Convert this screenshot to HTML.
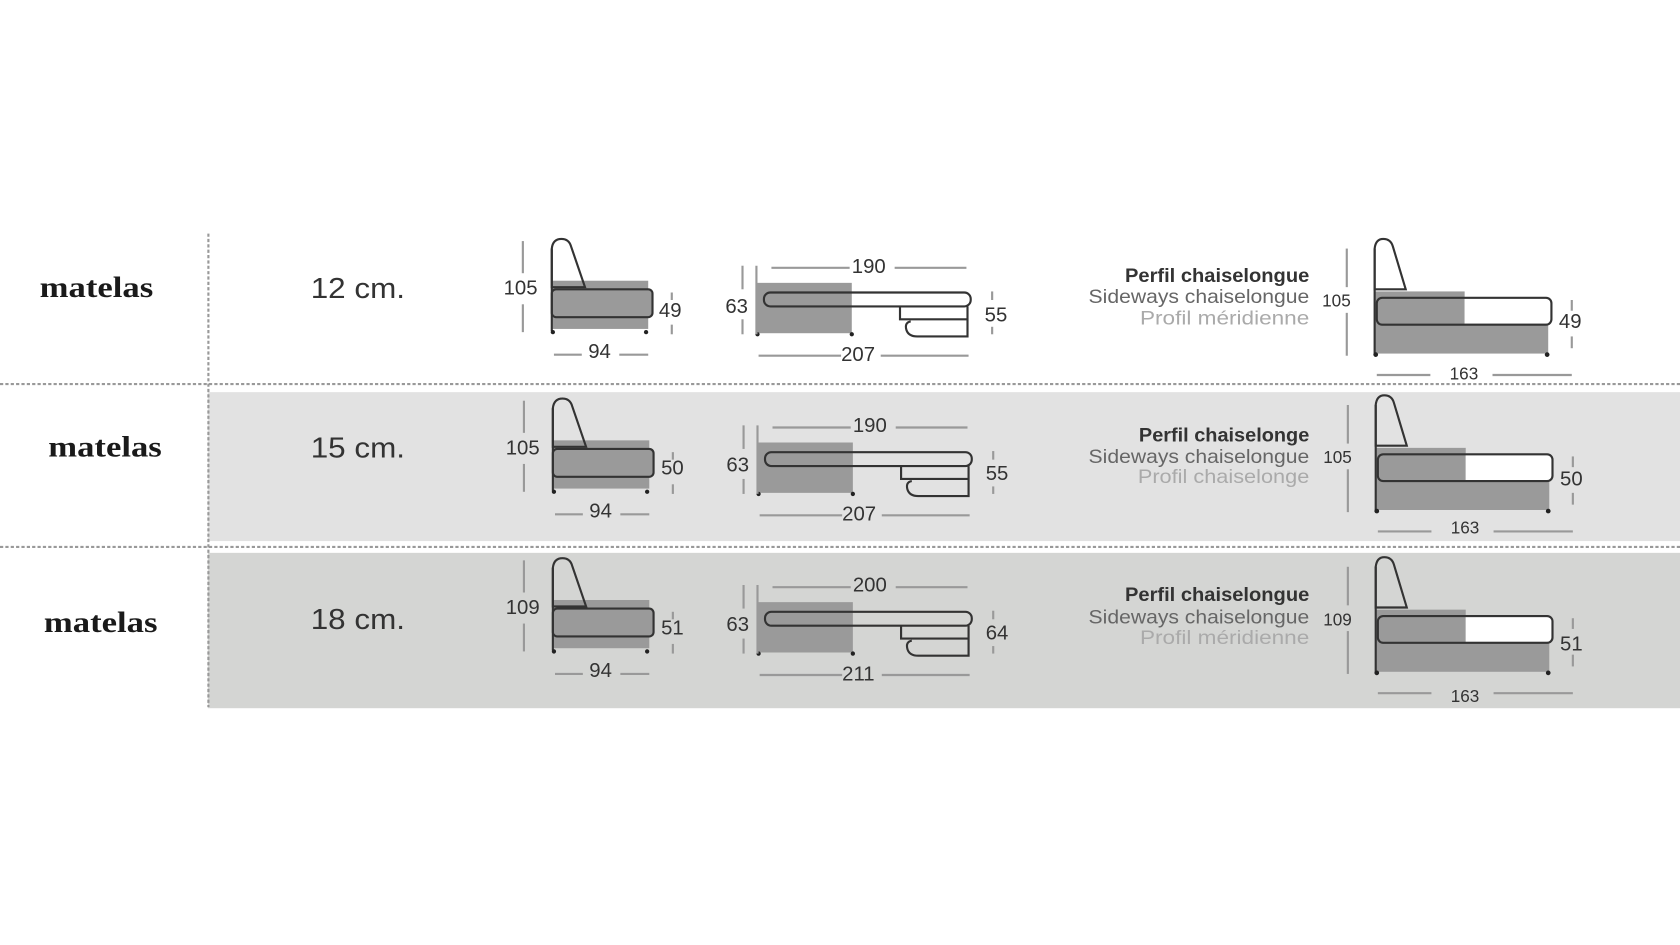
<!DOCTYPE html>
<html><head><meta charset="utf-8"><style>
html,body{margin:0;padding:0;background:#fff;width:1680px;height:945px;overflow:hidden}
svg{display:block}
.m{font-family:"Liberation Serif",serif;font-weight:bold;font-size:28px;fill:#1a1a1a}
.c{font-family:"Liberation Sans",sans-serif;font-size:27px;fill:#333}
.d{font-family:"Liberation Sans",sans-serif;font-size:19px;fill:#333}
.ds{font-family:"Liberation Sans",sans-serif;font-size:16px;fill:#333}
.l1{font-family:"Liberation Sans",sans-serif;font-size:18px;font-weight:bold;fill:#333}
.l2{font-family:"Liberation Sans",sans-serif;font-size:18px;fill:#666}
.l3{font-family:"Liberation Sans",sans-serif;font-size:18px;fill:#aaa}
</style></head><body>
<svg width="1680" height="945" viewBox="0 0 1568 882" xmlns="http://www.w3.org/2000/svg">
<defs>
<g id="s1">
  <rect x="515" y="262" width="90" height="45" fill="#9a9a9a"/>
  <path d="M515 268 L515 232 Q516 223 524 223 Q531 223 533 230 L546 268 Z" fill="none" stroke="#333" stroke-width="2"/>
  <rect x="515" y="270" width="94" height="26" rx="4" fill="#9a9a9a" stroke="#333" stroke-width="2"/>
  <line x1="515" y1="232" x2="515" y2="309" stroke="#333" stroke-width="2"/>
  <circle cx="516" cy="310" r="2" fill="#222"/><circle cx="603" cy="310" r="2" fill="#222"/>
  <line x1="488" y1="225" x2="488" y2="255" stroke="#999" stroke-width="2"/>
  <line x1="488" y1="284" x2="488" y2="310" stroke="#999" stroke-width="2"/>
  <line x1="627" y1="273" x2="627" y2="280" stroke="#999" stroke-width="2"/>
  <line x1="627" y1="303" x2="627" y2="312" stroke="#999" stroke-width="2"/>
  <line x1="517" y1="331" x2="543" y2="331" stroke="#999" stroke-width="2"/>
  <line x1="578" y1="331" x2="605" y2="331" stroke="#999" stroke-width="2"/>
</g>
<g id="s2">
  <rect x="706" y="264" width="89" height="47" fill="#9a9a9a"/>
  <rect x="713" y="273" width="193" height="13" rx="6" fill="none" stroke="#333" stroke-width="2"/>
  <path d="M840 286 L840 298 L903 298 M850 300 Q844 301 846 308 Q848 314 856 314 L903 314 L903 286" fill="none" stroke="#333" stroke-width="2"/>
  <circle cx="707" cy="312" r="2" fill="#222"/><circle cx="795" cy="312" r="2" fill="#222"/>
  <line x1="693" y1="248" x2="693" y2="270" stroke="#999" stroke-width="2"/>
  <line x1="693" y1="298" x2="693" y2="312" stroke="#999" stroke-width="2"/>
  <line x1="706" y1="248" x2="706" y2="312" stroke="#999" stroke-width="2"/>
  <line x1="926" y1="272" x2="926" y2="280" stroke="#999" stroke-width="2"/>
  <line x1="926" y1="305" x2="926" y2="312" stroke="#999" stroke-width="2"/>
  <line x1="720" y1="250" x2="793" y2="250" stroke="#999" stroke-width="2"/>
  <line x1="835" y1="250" x2="902" y2="250" stroke="#999" stroke-width="2"/>
  <line x1="708" y1="332" x2="785" y2="332" stroke="#999" stroke-width="2"/>
  <line x1="822" y1="332" x2="904" y2="332" stroke="#999" stroke-width="2"/>
</g>
<g id="s3">
  <rect x="1283" y="272" width="84" height="31" fill="#9a9a9a"/>
  <rect x="1283" y="302" width="162" height="28" fill="#9a9a9a"/>
  <rect x="1367" y="279" width="80" height="23" fill="#fff"/>
  <path d="M1283 270 L1283 232 Q1284 223 1291 223 Q1298 223 1300 230 L1312 270 Z" fill="none" stroke="#333" stroke-width="2"/>
  <rect x="1285" y="278" width="163" height="25" rx="5" fill="none" stroke="#333" stroke-width="2"/>
  <line x1="1283" y1="232" x2="1283" y2="331" stroke="#333" stroke-width="2"/>
  <circle cx="1284" cy="331" r="2.2" fill="#222"/><circle cx="1444" cy="331" r="2.2" fill="#222"/>
  <line x1="1257" y1="232" x2="1257" y2="268" stroke="#999" stroke-width="2"/>
  <line x1="1257" y1="292" x2="1257" y2="332" stroke="#999" stroke-width="2"/>
  <line x1="1467" y1="280" x2="1467" y2="290" stroke="#999" stroke-width="2"/>
  <line x1="1467" y1="314" x2="1467" y2="325" stroke="#999" stroke-width="2"/>
  <line x1="1285" y1="350" x2="1335" y2="350" stroke="#999" stroke-width="2"/>
  <line x1="1393" y1="350" x2="1467" y2="350" stroke="#999" stroke-width="2"/>
</g>
</defs>
<rect x="194" y="366" width="1374" height="139" fill="#e2e2e2"/>
<rect x="194" y="516" width="1374" height="145" fill="#d4d5d3"/>
<line x1="0" y1="358.5" x2="1568" y2="358.5" stroke="#999" stroke-width="2" stroke-dasharray="3,2"/>
<line x1="0" y1="510.5" x2="1568" y2="510.5" stroke="#999" stroke-width="2" stroke-dasharray="3,2"/>
<line x1="194.5" y1="218" x2="194.5" y2="660" stroke="#999" stroke-width="2" stroke-dasharray="3,2"/>

<!-- Row 1 -->
<text class="m" x="37" y="277" textLength="106" lengthAdjust="spacingAndGlyphs">matelas</text>
<text class="c" x="290" y="278" textLength="88" lengthAdjust="spacingAndGlyphs">12 cm.</text>
<use href="#s1"/><use href="#s2"/><use href="#s3"/>
<text class="d" x="470" y="275">105</text><text class="d" x="615" y="296">49</text><text class="d" x="549" y="334">94</text>
<text class="d" x="677" y="292">63</text><text class="d" x="795" y="255">190</text><text class="d" x="785" y="337">207</text><text class="d" x="919" y="300">55</text>
<text class="l1" x="1050" y="263" textLength="172" lengthAdjust="spacingAndGlyphs">Perfil chaiselongue</text>
<text class="l2" x="1016" y="283" textLength="206" lengthAdjust="spacingAndGlyphs">Sideways chaiselongue</text>
<text class="l3" x="1064" y="303" textLength="158" lengthAdjust="spacingAndGlyphs">Profil méridienne</text>
<text class="ds" x="1234" y="286">105</text><text class="d" x="1455" y="306">49</text><text class="ds" x="1353" y="354">163</text>

<!-- Row 2 -->
<text class="m" x="45" y="426" textLength="106" lengthAdjust="spacingAndGlyphs">matelas</text>
<text class="c" x="290" y="427" textLength="88" lengthAdjust="spacingAndGlyphs">15 cm.</text>
<g transform="translate(1,149)"><use href="#s1"/><use href="#s2"/></g>
<g transform="translate(1,146)"><use href="#s3"/></g>
<text class="d" x="472" y="424">105</text><text class="d" x="617" y="443">50</text><text class="d" x="550" y="483">94</text>
<text class="d" x="678" y="440">63</text><text class="d" x="796" y="403">190</text><text class="d" x="786" y="486">207</text><text class="d" x="920" y="448">55</text>
<text class="l1" x="1063" y="412" textLength="159" lengthAdjust="spacingAndGlyphs">Perfil chaiselonge</text>
<text class="l2" x="1016" y="432" textLength="206" lengthAdjust="spacingAndGlyphs">Sideways chaiselongue</text>
<text class="l3" x="1062" y="451" textLength="160" lengthAdjust="spacingAndGlyphs">Profil chaiselonge</text>
<text class="ds" x="1235" y="432">105</text><text class="d" x="1456" y="453">50</text><text class="ds" x="1354" y="498">163</text>

<!-- Row 3 -->
<text class="m" x="41" y="590" textLength="106" lengthAdjust="spacingAndGlyphs">matelas</text>
<text class="c" x="290" y="587" textLength="88" lengthAdjust="spacingAndGlyphs">18 cm.</text>
<g transform="translate(1,298)"><use href="#s1"/><use href="#s2"/></g>
<g transform="translate(1,297)"><use href="#s3"/></g>
<text class="d" x="472" y="573">109</text><text class="d" x="617" y="592">51</text><text class="d" x="550" y="632">94</text>
<text class="d" x="678" y="589">63</text><text class="d" x="796" y="552">200</text><text class="d" x="786" y="635">211</text><text class="d" x="920" y="597">64</text>
<text class="l1" x="1050" y="561" textLength="172" lengthAdjust="spacingAndGlyphs">Perfil chaiselongue</text>
<text class="l2" x="1016" y="582" textLength="206" lengthAdjust="spacingAndGlyphs">Sideways chaiselongue</text>
<text class="l3" x="1064" y="601" textLength="158" lengthAdjust="spacingAndGlyphs">Profil méridienne</text>
<text class="ds" x="1235" y="584">109</text><text class="d" x="1456" y="607">51</text><text class="ds" x="1354" y="655">163</text>
</svg>
</body></html>
